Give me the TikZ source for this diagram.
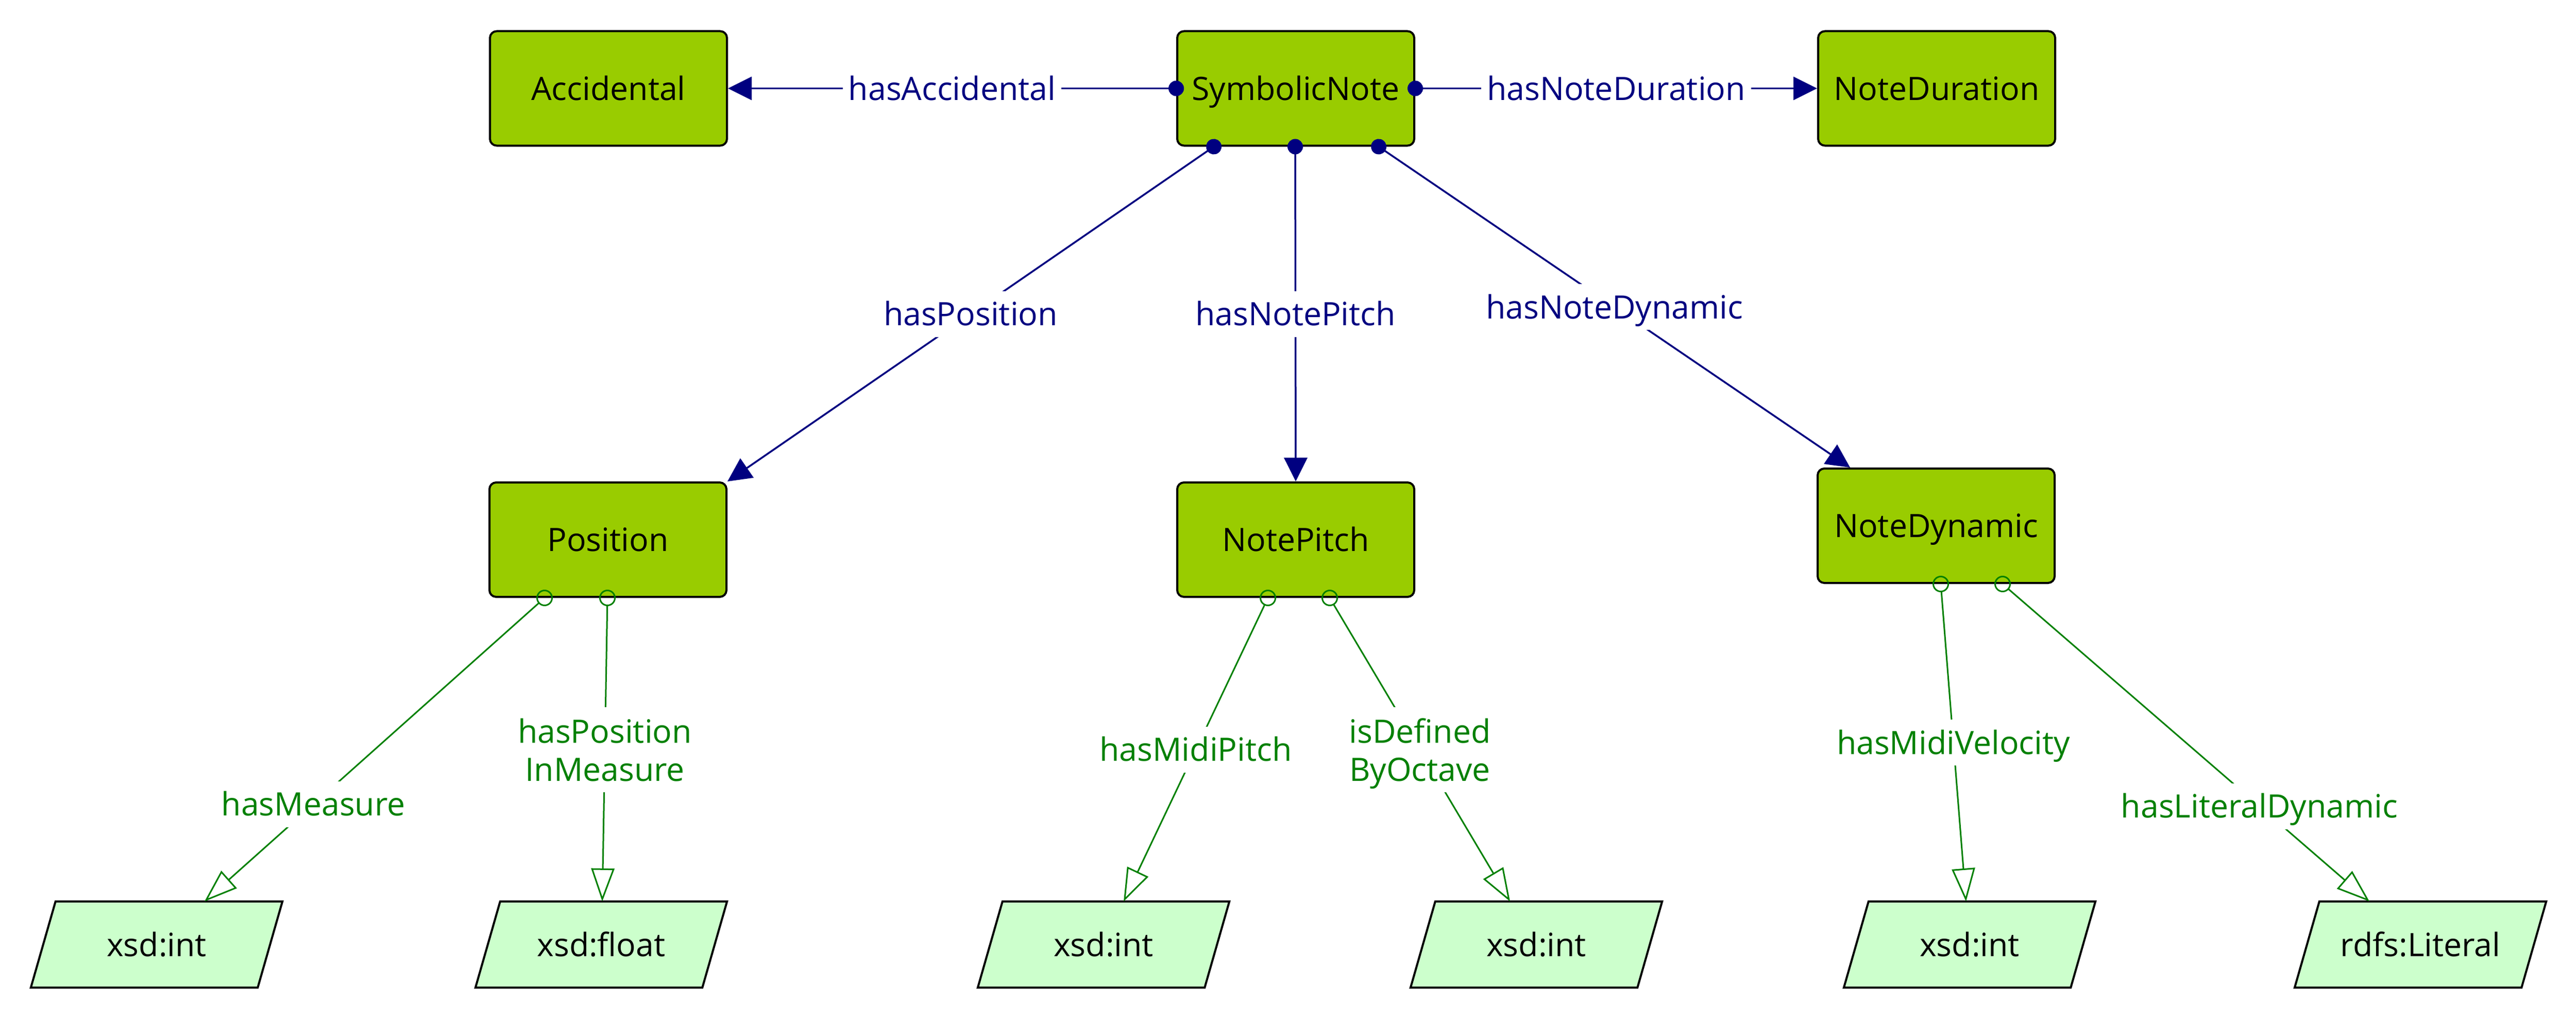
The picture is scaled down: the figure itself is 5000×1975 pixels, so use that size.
\documentclass[tikz,border=0pt]{standalone}
\usepackage{fontspec}
\setmainfont{Open Sans}
\usetikzlibrary{arrows.meta,calc,backgrounds}
\definecolor{clsfill}{HTML}{99CC00}
\definecolor{dtfill}{HTML}{CCFFCC}
\definecolor{objcol}{HTML}{000080}
\definecolor{datcol}{HTML}{008000}
\begin{document}
\begin{tikzpicture}[x=1pt,y=-1pt,
  font=\fontsize{62.5}{74}\selectfont,
  cls/.style={draw=black, line width=4pt, fill=clsfill, rounded corners=13pt,
    minimum width=460pt, minimum height=222pt, text height=45pt, text depth=0pt, inner sep=0pt},
  dtype/.style={minimum width=488pt, minimum height=167pt, inner sep=0pt,
    text height=45pt, text depth=0pt},
  objprop/.style={draw=objcol, line width=3.5pt,
    {Circle[length=30pt,width=30pt]}-{Triangle[length=46pt,width=45pt]}, shorten <=-15pt},
  datprop/.style={draw=datcol, line width=3pt,
    {Circle[open,length=32pt,width=32pt]}-{Triangle[open,length=64pt,width=45pt]}, shorten <=-16pt},
  olabel/.style={fill=white, text=objcol, inner xsep=11pt, inner ysep=22pt,
    text height=45pt, text depth=0pt},
  dlabel/.style={fill=white, text=datcol, inner xsep=11pt, inner ysep=22pt,
    text height=45pt, text depth=0pt},
  dlabeltwo/.style={fill=white, text=datcol, inner xsep=11pt, inner ysep=22pt,
    align=center, text depth=0pt},
]
\useasboundingbox (0,0) rectangle (5000,1975);

% classes
\node[cls] (acc) at (1181,171.5) {Accidental};
\node[cls] (sn)  at (2515,171.5) {SymbolicNote};
\node[cls] (dur) at (3759,171.5) {NoteDuration};
\node[cls] (pos) at (1180,1047) {Position};
\node[cls] (np)  at (2515,1047) {NotePitch};
\node[cls] (nd)  at (3758,1020) {NoteDynamic};

% datatypes
\node[dtype] (d1) at (304,1832.5)  {xsd:int};
\node[dtype] (d2) at (1167,1832.5) {xsd:float};
\node[dtype] (d3) at (2142,1832.5) {xsd:int};
\node[dtype] (d4) at (2982,1832.5) {xsd:int};
\node[dtype] (d5) at (3823,1832.5) {xsd:int};
\node[dtype] (d6) at (4698,1832.5) {rdfs:Literal};

\begin{scope}[on background layer]
  \foreach \n in {d1,d2,d3,d4,d5,d6}{
    \filldraw[fill=dtfill, draw=black, line width=4pt, line join=miter]
      (\n.south west) -- ($(\n.north west)+(48,0)$) -- (\n.north east)
      -- ($(\n.south east)+(-48,0)$) -- cycle;
  }
\end{scope}

% ports
\coordinate (snp1) at ($(sn.south)+(-159,0)$);
\coordinate (snp2) at ($(sn.south)+(-1,0)$);
\coordinate (snp3) at ($(sn.south)+(161,0)$);
\coordinate (posp1) at ($(pos.south)+(-123,0)$);
\coordinate (posp2) at ($(pos.south)+(-1,0)$);
\coordinate (npp1) at ($(np.south)+(-54,0)$);
\coordinate (npp2) at ($(np.south)+(66,0)$);
\coordinate (ndp1) at ($(nd.south)+(9,0)$);
\coordinate (ndp2) at ($(nd.south)+(129,0)$);
\coordinate (ndin) at ($(nd.north west)+(65,0)$);
\coordinate (t1) at ($(d1.north)+(93,0)$);
\coordinate (t2) at ($(d2.north)+(2,0)$);
\coordinate (t3) at ($(d3.north)+(39,0)$);
\coordinate (t4) at ($(d4.north)+(-51,0)$);
\coordinate (t5) at ($(d5.north)+(-7,0)$);
\coordinate (t6) at ($(d6.north)+(-99,0)$);

% object properties
\draw[objprop] (sn.west) -- node[olabel, midway] {hasAccidental} (acc.east);
\draw[objprop] (sn.east) -- node[olabel, midway] {hasNoteDuration} (dur.west);
\draw[objprop] (snp1) -- node[olabel, midway] {hasPosition} (pos.north east);
\draw[objprop] (snp2) -- node[olabel, midway] {hasNotePitch} (np.north);
\draw[objprop] (snp3) -- node[olabel, midway] {hasNoteDynamic} (ndin);

% datatype properties
\draw[datprop] (posp1) -- node[dlabel, pos=0.68] {hasMeasure} (t1);
\draw[datprop] (posp2) -- node[dlabeltwo, midway] {hasPosition\\InMeasure} (t2);
\draw[datprop] (npp1) -- node[dlabel, midway] {hasMidiPitch} (t3);
\draw[datprop] (npp2) -- node[dlabeltwo, midway] {isDefined\\ByOctave} (t4);
\draw[datprop] (ndp1) -- node[dlabel, midway] {hasMidiVelocity} (t5);
\draw[datprop] (ndp2) -- node[dlabel, pos=0.70] {hasLiteralDynamic} (t6);
\end{tikzpicture}
\end{document}
